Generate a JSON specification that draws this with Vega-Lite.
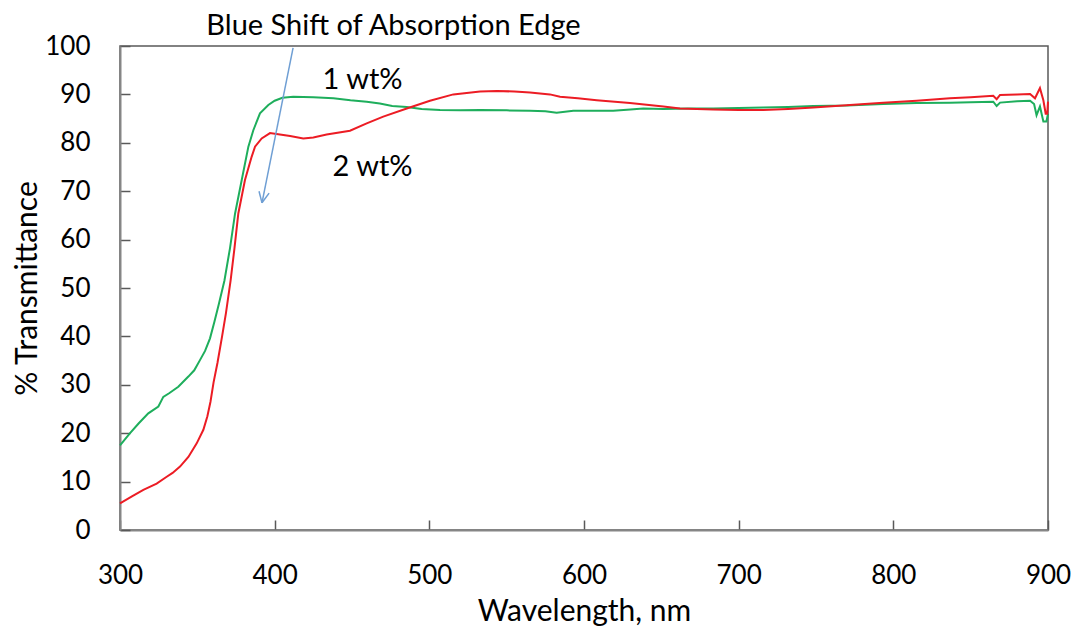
{
  "$schema": "https://vega.github.io/schema/vega-lite/v6.json",
  "width": 928,
  "height": 484,
  "padding": {"left": 120, "top": 46, "right": 28, "bottom": 96},
  "autosize": {"type": "none"},
  "background": "white",
  "config": {
    "view": {"stroke": "#595959", "strokeWidth": 1.5},
    "font": "Lato",
    "axis": {
      "grid": false,
      "domainColor": "#868686",
      "domainWidth": 2,
      "tickColor": "#595959",
      "tickWidth": 1.5,
      "tickSize": -10,
      "labelFlush": false,
      "labelFont": "Lato",
      "labelFontSize": 26,
      "labelColor": "#000000",
      "titleFont": "Lato",
      "titleFontSize": 30,
      "titleFontWeight": "normal",
      "titleColor": "#000000"
    }
  },
  "datasets": {
    "spectra": [
      {"wl": 300, "T": 17.5, "s": "1 wt%"},
      {"wl": 306.5, "T": 20.0, "s": "1 wt%"},
      {"wl": 312, "T": 22.0, "s": "1 wt%"},
      {"wl": 318.3, "T": 24.1, "s": "1 wt%"},
      {"wl": 324.8, "T": 25.5, "s": "1 wt%"},
      {"wl": 328, "T": 27.5, "s": "1 wt%"},
      {"wl": 332, "T": 28.3, "s": "1 wt%"},
      {"wl": 337.7, "T": 29.6, "s": "1 wt%"},
      {"wl": 344.2, "T": 31.7, "s": "1 wt%"},
      {"wl": 348, "T": 33.0, "s": "1 wt%"},
      {"wl": 351.7, "T": 35.1, "s": "1 wt%"},
      {"wl": 355, "T": 37.0, "s": "1 wt%"},
      {"wl": 358.2, "T": 39.6, "s": "1 wt%"},
      {"wl": 361, "T": 43.0, "s": "1 wt%"},
      {"wl": 364, "T": 46.8, "s": "1 wt%"},
      {"wl": 367.5, "T": 51.5, "s": "1 wt%"},
      {"wl": 371.1, "T": 58.2, "s": "1 wt%"},
      {"wl": 374.4, "T": 65.4, "s": "1 wt%"},
      {"wl": 378.7, "T": 72.3, "s": "1 wt%"},
      {"wl": 383.0, "T": 79.2, "s": "1 wt%"},
      {"wl": 386.2, "T": 82.6, "s": "1 wt%"},
      {"wl": 390.5, "T": 86.1, "s": "1 wt%"},
      {"wl": 395.9, "T": 87.8, "s": "1 wt%"},
      {"wl": 400, "T": 88.7, "s": "1 wt%"},
      {"wl": 405, "T": 89.3, "s": "1 wt%"},
      {"wl": 412, "T": 89.5, "s": "1 wt%"},
      {"wl": 425, "T": 89.4, "s": "1 wt%"},
      {"wl": 438, "T": 89.2, "s": "1 wt%"},
      {"wl": 449, "T": 88.8, "s": "1 wt%"},
      {"wl": 459.5, "T": 88.5, "s": "1 wt%"},
      {"wl": 468, "T": 88.1, "s": "1 wt%"},
      {"wl": 476, "T": 87.6, "s": "1 wt%"},
      {"wl": 485.4, "T": 87.4, "s": "1 wt%"},
      {"wl": 495, "T": 87.0, "s": "1 wt%"},
      {"wl": 506.9, "T": 86.8, "s": "1 wt%"},
      {"wl": 520, "T": 86.7, "s": "1 wt%"},
      {"wl": 532.8, "T": 86.8, "s": "1 wt%"},
      {"wl": 550, "T": 86.7, "s": "1 wt%"},
      {"wl": 565.1, "T": 86.6, "s": "1 wt%"},
      {"wl": 575, "T": 86.5, "s": "1 wt%"},
      {"wl": 582.3, "T": 86.2, "s": "1 wt%"},
      {"wl": 593.1, "T": 86.6, "s": "1 wt%"},
      {"wl": 605, "T": 86.6, "s": "1 wt%"},
      {"wl": 618.9, "T": 86.6, "s": "1 wt%"},
      {"wl": 630, "T": 86.9, "s": "1 wt%"},
      {"wl": 638.3, "T": 87.1, "s": "1 wt%"},
      {"wl": 651.3, "T": 87.0, "s": "1 wt%"},
      {"wl": 667, "T": 87.1, "s": "1 wt%"},
      {"wl": 683.6, "T": 87.1, "s": "1 wt%"},
      {"wl": 700, "T": 87.2, "s": "1 wt%"},
      {"wl": 715.9, "T": 87.3, "s": "1 wt%"},
      {"wl": 732, "T": 87.4, "s": "1 wt%"},
      {"wl": 748.3, "T": 87.6, "s": "1 wt%"},
      {"wl": 770, "T": 87.7, "s": "1 wt%"},
      {"wl": 793.5, "T": 88.0, "s": "1 wt%"},
      {"wl": 815.1, "T": 88.2, "s": "1 wt%"},
      {"wl": 836.6, "T": 88.3, "s": "1 wt%"},
      {"wl": 850, "T": 88.4, "s": "1 wt%"},
      {"wl": 864.6, "T": 88.5, "s": "1 wt%"},
      {"wl": 866.8, "T": 87.6, "s": "1 wt%"},
      {"wl": 869, "T": 88.3, "s": "1 wt%"},
      {"wl": 880, "T": 88.6, "s": "1 wt%"},
      {"wl": 888.4, "T": 88.7, "s": "1 wt%"},
      {"wl": 891, "T": 88.0, "s": "1 wt%"},
      {"wl": 892.6, "T": 85.7, "s": "1 wt%"},
      {"wl": 894.8, "T": 87.5, "s": "1 wt%"},
      {"wl": 897, "T": 84.4, "s": "1 wt%"},
      {"wl": 899, "T": 84.4, "s": "1 wt%"},
      {"wl": 900, "T": 86.0, "s": "1 wt%"},
      {"wl": 300, "T": 5.5, "s": "2 wt%"},
      {"wl": 308, "T": 7.0, "s": "2 wt%"},
      {"wl": 315.1, "T": 8.3, "s": "2 wt%"},
      {"wl": 323.7, "T": 9.6, "s": "2 wt%"},
      {"wl": 330.2, "T": 11.0, "s": "2 wt%"},
      {"wl": 334, "T": 11.8, "s": "2 wt%"},
      {"wl": 338.8, "T": 13.1, "s": "2 wt%"},
      {"wl": 344.2, "T": 15.1, "s": "2 wt%"},
      {"wl": 349.6, "T": 17.9, "s": "2 wt%"},
      {"wl": 353.9, "T": 20.7, "s": "2 wt%"},
      {"wl": 356.5, "T": 23.5, "s": "2 wt%"},
      {"wl": 358.5, "T": 26.5, "s": "2 wt%"},
      {"wl": 360.5, "T": 30.5, "s": "2 wt%"},
      {"wl": 363, "T": 34.5, "s": "2 wt%"},
      {"wl": 366, "T": 40.0, "s": "2 wt%"},
      {"wl": 368.5, "T": 44.8, "s": "2 wt%"},
      {"wl": 371.5, "T": 51.5, "s": "2 wt%"},
      {"wl": 374, "T": 58.2, "s": "2 wt%"},
      {"wl": 376.5, "T": 65.4, "s": "2 wt%"},
      {"wl": 380.8, "T": 72.3, "s": "2 wt%"},
      {"wl": 385.1, "T": 77.1, "s": "2 wt%"},
      {"wl": 387.3, "T": 79.2, "s": "2 wt%"},
      {"wl": 391.6, "T": 80.9, "s": "2 wt%"},
      {"wl": 397, "T": 82.0, "s": "2 wt%"},
      {"wl": 403.4, "T": 81.7, "s": "2 wt%"},
      {"wl": 410, "T": 81.4, "s": "2 wt%"},
      {"wl": 418.5, "T": 80.9, "s": "2 wt%"},
      {"wl": 425, "T": 81.1, "s": "2 wt%"},
      {"wl": 433.6, "T": 81.7, "s": "2 wt%"},
      {"wl": 448.7, "T": 82.5, "s": "2 wt%"},
      {"wl": 459.5, "T": 84.0, "s": "2 wt%"},
      {"wl": 470.2, "T": 85.4, "s": "2 wt%"},
      {"wl": 485.4, "T": 87.1, "s": "2 wt%"},
      {"wl": 500.4, "T": 88.7, "s": "2 wt%"},
      {"wl": 515.5, "T": 90.0, "s": "2 wt%"},
      {"wl": 532.8, "T": 90.6, "s": "2 wt%"},
      {"wl": 543.6, "T": 90.7, "s": "2 wt%"},
      {"wl": 555, "T": 90.6, "s": "2 wt%"},
      {"wl": 565.1, "T": 90.4, "s": "2 wt%"},
      {"wl": 578, "T": 90.0, "s": "2 wt%"},
      {"wl": 584.5, "T": 89.5, "s": "2 wt%"},
      {"wl": 596, "T": 89.2, "s": "2 wt%"},
      {"wl": 608.2, "T": 88.8, "s": "2 wt%"},
      {"wl": 629.7, "T": 88.2, "s": "2 wt%"},
      {"wl": 651.3, "T": 87.5, "s": "2 wt%"},
      {"wl": 662.1, "T": 87.1, "s": "2 wt%"},
      {"wl": 683.6, "T": 86.9, "s": "2 wt%"},
      {"wl": 700, "T": 86.8, "s": "2 wt%"},
      {"wl": 715.9, "T": 86.8, "s": "2 wt%"},
      {"wl": 732, "T": 87.0, "s": "2 wt%"},
      {"wl": 748.3, "T": 87.3, "s": "2 wt%"},
      {"wl": 772, "T": 87.8, "s": "2 wt%"},
      {"wl": 793.5, "T": 88.3, "s": "2 wt%"},
      {"wl": 815.1, "T": 88.7, "s": "2 wt%"},
      {"wl": 836.6, "T": 89.2, "s": "2 wt%"},
      {"wl": 850, "T": 89.4, "s": "2 wt%"},
      {"wl": 864.6, "T": 89.7, "s": "2 wt%"},
      {"wl": 866.8, "T": 89.0, "s": "2 wt%"},
      {"wl": 869, "T": 89.9, "s": "2 wt%"},
      {"wl": 880, "T": 90.0, "s": "2 wt%"},
      {"wl": 888.4, "T": 90.1, "s": "2 wt%"},
      {"wl": 891.6, "T": 89.2, "s": "2 wt%"},
      {"wl": 894.8, "T": 91.3, "s": "2 wt%"},
      {"wl": 897, "T": 88.8, "s": "2 wt%"},
      {"wl": 898.5, "T": 86.0, "s": "2 wt%"},
      {"wl": 899.5, "T": 86.0, "s": "2 wt%"},
      {"wl": 900, "T": 88.5, "s": "2 wt%"}
    ],
    "arrow": [
      {"x1": 411.9, "y1": 99.6, "x2": 391.8, "y2": 67.6},
      {"x1": 391.8, "y1": 67.6, "x2": 396.4, "y2": 69.6},
      {"x1": 391.8, "y1": 67.6, "x2": 389.9, "y2": 70.0}
    ],
    "labels": [
      {"wl": 456.8, "T": 91.1, "text": "1 wt%"},
      {"wl": 463.3, "T": 73.1, "text": "2 wt%"},
      {"wl": 476.8, "T": 102.3, "text": "Blue Shift of Absorption Edge"}
    ]
  },
  "layer": [
    {
      "data": {"name": "spectra"},
      "mark": {"type": "line", "strokeWidth": 2, "interpolate": "linear"},
      "encoding": {
        "x": {
          "field": "wl", "type": "quantitative",
          "scale": {"domain": [300, 900], "nice": false, "zero": false},
          "axis": {"values": [300, 400, 500, 600, 700, 800, 900], "title": "Wavelength, nm", "labelPadding": 42, "titlePadding": 8}
        },
        "y": {
          "field": "T", "type": "quantitative",
          "scale": {"domain": [0, 100], "nice": false},
          "axis": {"values": [0, 10, 20, 30, 40, 50, 60, 70, 80, 90, 100], "title": "% Transmittance", "labelPadding": 40, "titlePadding": 2}
        },
        "color": {
          "field": "s", "type": "nominal",
          "scale": {"domain": ["1 wt%", "2 wt%"], "range": ["#1eae5c", "#ec1c24"]},
          "legend": null
        },
        "order": {"field": "wl", "type": "quantitative"}
      }
    },
    {
      "data": {"name": "arrow"},
      "mark": {"type": "rule", "color": "#6f9fd4", "strokeWidth": 1.5},
      "encoding": {
        "x": {"field": "x1", "type": "quantitative"},
        "y": {"field": "y1", "type": "quantitative"},
        "x2": {"field": "x2"},
        "y2": {"field": "y2"}
      }
    },
    {
      "data": {"name": "labels"},
      "mark": {"type": "text", "font": "Lato", "fontSize": 29, "color": "#000000", "align": "center", "baseline": "alphabetic"},
      "encoding": {
        "x": {"field": "wl", "type": "quantitative"},
        "y": {"field": "T", "type": "quantitative"},
        "text": {"field": "text"}
      }
    }
  ]
}
